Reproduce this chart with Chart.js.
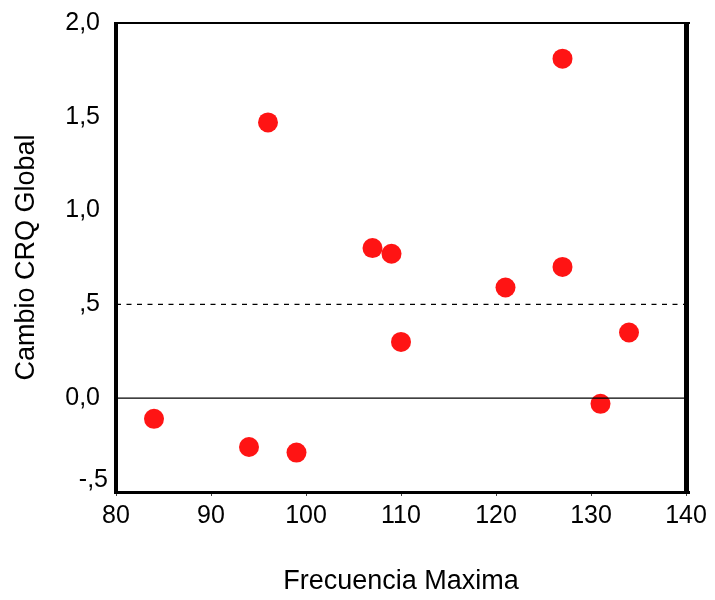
<!DOCTYPE html>
<html>
<head>
<meta charset="utf-8">
<script src="https://cdn.jsdelivr.net/npm/chart.js@4/dist/chart.umd.min.js"></script>
<style>
  html, body { margin: 0; padding: 0; background: #fff; }
  #wrap { width: 715px; height: 600px; }
</style>
</head>
<body>
<div id="wrap"><canvas id="c" width="715" height="600"></canvas></div>
<script>
// ---- Data ----
const frecuenciaMaxima = [84, 94, 99, 96, 107, 109, 110, 121, 127, 127, 131, 134];
const cambioCRQGlobal  = [-0.11, -0.26, -0.29, 1.47, 0.80, 0.77, 0.30, 0.59, 1.81, 0.70, -0.03, 0.35];
const xTicks = [80, 90, 100, 110, 120, 130, 140];
const yTickLabels = { "2": "2,0", "1.5": "1,5", "1": "1,0", "0.5": ",5", "0": "0,0", "-0.5": "-,5" };
const refZero = 0;
const refHalf = 0.5;
const xTitle = "Frecuencia Maxima";
const yTitle = "Cambio CRQ Global";

const points = frecuenciaMaxima.map((x, i) => ({ x: x, y: cambioCRQGlobal[i] }));
const FONT = "'Liberation Sans', Arial, sans-serif";

const framePlugin = {
  id: 'frame',
  afterDraw(chart) {
    const { ctx, chartArea: a, scales } = chart;
    ctx.save();
    ctx.fillStyle = '#000';
    ctx.fillRect(a.left - 2, a.top - 1, a.right - a.left + 6, 2);
    ctx.fillRect(a.left - 2, a.bottom - 1, a.right - a.left + 6, 3);
    ctx.fillRect(a.left - 2, a.top - 1, 4, a.bottom - a.top + 3);
    ctx.fillRect(a.right - 2, a.top - 1, 5, a.bottom - a.top + 3);
    // bottom y tick label, shifted up like the reference
    const y = scales.y.getPixelForValue(-0.5);
    ctx.font = "25px " + FONT;
    ctx.textAlign = 'right';
    ctx.textBaseline = 'middle';
    ctx.fillText(yTickLabels["-0.5"], a.left - 8, y - 12);
    ctx.restore();
  }
};

new Chart(document.getElementById('c'), {
  type: 'scatter',
  data: {
    datasets: [
      {
        type: 'line',
        data: [{ x: 80, y: refHalf }, { x: 140, y: refHalf }],
        borderColor: '#000', borderWidth: 1.2, borderDash: [5, 5.5],
        pointRadius: 0, fill: false
      },
      {
        type: 'line',
        data: [{ x: 80, y: refZero }, { x: 140, y: refZero }],
        borderColor: '#000', borderWidth: 1.2,
        pointRadius: 0, fill: false
      },
      {
        data: points,
        backgroundColor: '#ff1414',
        borderWidth: 0,
        pointRadius: 10,
        pointHoverRadius: 10
      }
    ]
  },
  options: {
    responsive: false,
    animation: false,
    layout: { padding: { left: 0, top: 20, right: 29, bottom: 0 } },
    plugins: { legend: { display: false }, tooltip: { enabled: false } },
    scales: {
      x: {
        type: 'linear', min: 80, max: 140,
        afterBuildTicks: (s) => { s.ticks = xTicks.map(v => ({ value: v })); },
        afterFit: (s) => { s.height = 108; },
        ticks: { color: '#000', font: { family: FONT, size: 25 }, padding: 5 },
        grid: { display: true, drawOnChartArea: false, drawTicks: true, tickLength: 4, color: '#444' },
        border: { display: false },
        title: { display: true, text: xTitle, color: '#000', font: { family: FONT, size: 27 }, padding: { top: 0, bottom: 2 } }
      },
      y: {
        type: 'linear', min: -0.5, max: 2.0,
        afterFit: (s) => { s.width = 116; },
        ticks: {
          stepSize: 0.5, color: '#000', font: { family: FONT, size: 25 }, padding: 8,
          callback: (v) => (Math.abs(v + 0.5) < 1e-9 ? '' : (yTickLabels[String(Math.round(v * 10) / 10)] || ''))
        },
        grid: { display: false },
        border: { display: false },
        title: { display: true, text: yTitle, color: '#000', font: { family: FONT, size: 27 }, padding: { top: 10, bottom: 0 } }
      }
    }
  },
  plugins: [framePlugin]
});
</script>
</body>
</html>
